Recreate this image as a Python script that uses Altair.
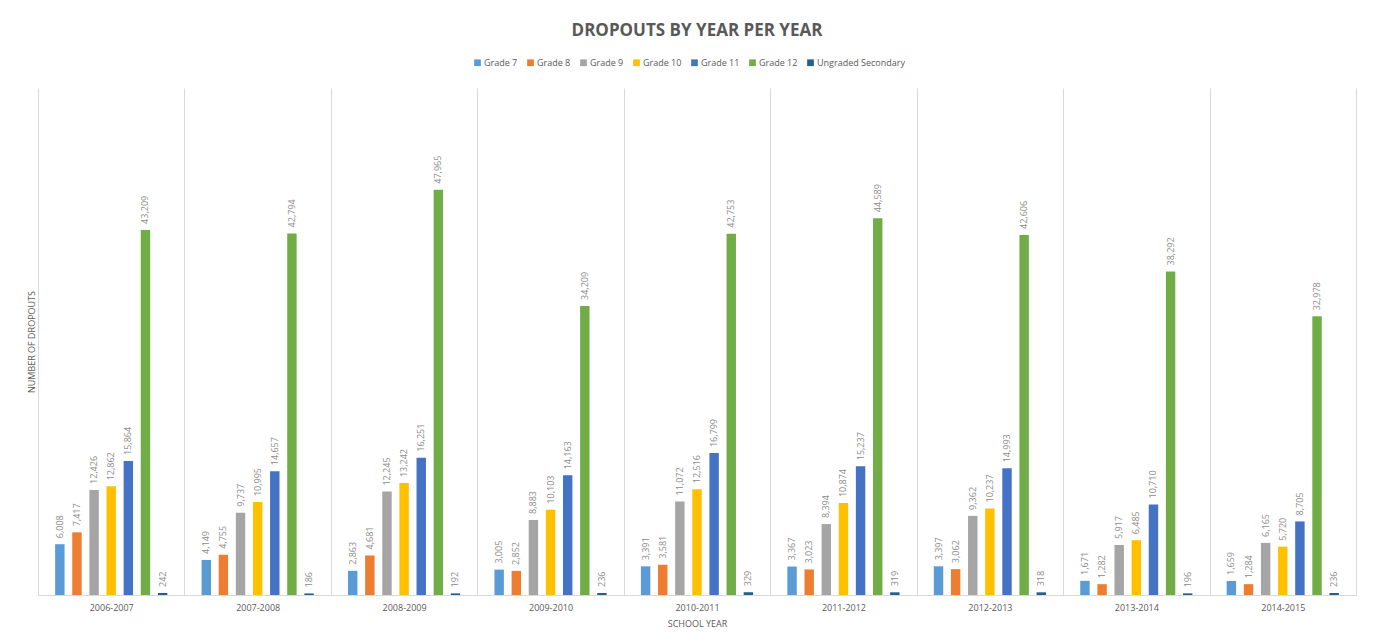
import altair as alt
import pandas as pd

years = ["2006-2007", "2007-2008", "2008-2009", "2009-2010", "2010-2011",
         "2011-2012", "2012-2013", "2013-2014", "2014-2015"]
grades = ["Grade 7", "Grade 8", "Grade 9", "Grade 10", "Grade 11", "Grade 12",
          "Ungraded Secondary"]
grade7 = [6008, 4149, 2863, 3005, 3391, 3367, 3397, 1671, 1659]
grade8 = [7417, 4755, 4681, 2852, 3581, 3023, 3062, 1282, 1284]
grade9 = [12426, 9737, 12245, 8883, 11072, 8394, 9362, 5917, 6165]
grade10 = [12862, 10995, 13242, 10103, 12516, 10874, 10237, 6485, 5720]
grade11 = [15864, 14657, 16251, 14163, 16799, 15237, 14993, 10710, 8705]
grade12 = [43209, 42794, 47965, 34209, 42753, 44589, 42606, 38292, 32978]
ungraded = [242, 186, 192, 236, 329, 319, 318, 196, 236]
colors = ["#5B9BD5", "#ED7D31", "#A5A5A5", "#FFC000", "#4472C4", "#70AD47", "#255E91"]

series = [grade7, grade8, grade9, grade10, grade11, grade12, ungraded]
rows = []
for g, vals in zip(grades, series):
    for y, v in zip(years, vals):
        rows.append({"year": y, "grade": g, "value": v})
df = pd.DataFrame(rows)

FONT = "Open Sans"

base = alt.Chart(df).encode(
    x=alt.X("year:N", sort=years,
            scale=alt.Scale(paddingInner=0, paddingOuter=0),
            axis=alt.Axis(title="SCHOOL YEAR", labelAngle=0, ticks=False,
                          tickBand="extent", grid=True, gridColor="#D9D9D9",
                          domainColor="#D9D9D9", labelFontSize=9, labelColor="#595959",
                          labelPadding=8, titleFontSize=9, titleFontWeight="normal",
                          titleColor="#595959", titlePadding=7, labelFont=FONT,
                          titleFont=FONT)),
    xOffset=alt.XOffset("grade:N", sort=grades,
                        scale=alt.Scale(paddingInner=0.45, paddingOuter=1)),
    y=alt.Y("value:Q", scale=alt.Scale(domain=[0, 60000]),
            axis=alt.Axis(title="NUMBER OF DROPOUTS", labels=False, ticks=False,
                          domain=False, grid=False, titleFontSize=9,
                          titleFontWeight="normal", titleColor="#595959",
                          titlePadding=2, titleFont=FONT)),
)

bars = base.mark_bar().encode(
    color=alt.Color("grade:N", sort=grades,
                    scale=alt.Scale(domain=grades, range=colors),
                    legend=alt.Legend(title=None, orient="none", direction="horizontal",
                                      legendX=435, legendY=-30, symbolType="square",
                                      symbolSize=45, labelFontSize=9, labelColor="#595959",
                                      labelFont=FONT, columnPadding=8, labelOffset=2,
                                      symbolStrokeWidth=0))
)

labels = base.mark_text(angle=270, align="left", baseline="middle", dx=6,
                        fontSize=9, color="#8C8C8C", font=FONT).encode(
    text=alt.Text("value:Q", format=",")
)

chart = alt.layer(bars, labels).properties(
    width=1318, height=507,
    title=alt.Title("DROPOUTS BY YEAR PER YEAR", fontSize=17, fontWeight="bold",
                    color="#595959", font=FONT, offset=18, anchor="middle"),
    autosize=alt.AutoSizeParams(type="none"),
    padding={"left": 30, "top": 80, "right": 12, "bottom": 40},
).configure_view(stroke=None)

chart.save("out.html", embed_options={"renderer": "svg", "actions": False})
